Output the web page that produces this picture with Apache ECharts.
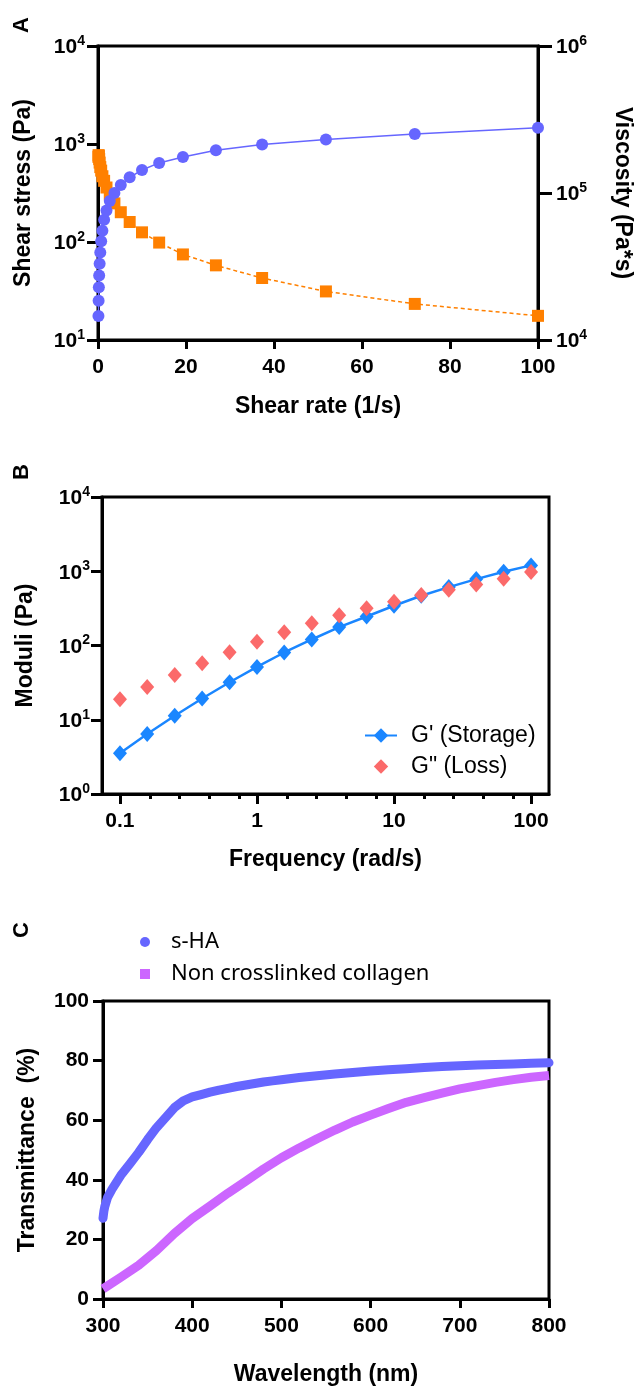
<!DOCTYPE html>
<html><head><meta charset="utf-8">
<script src="https://cdn.jsdelivr.net/npm/echarts@6/dist/echarts.min.js"></script>
<style>html,body{margin:0;padding:0;background:#fff}#c{width:640px;height:1388px}</style>
</head><body><div id="c"></div>
<script>
// ---- Panel A: flow curve ----
const shearRate = [0.1,0.139,0.193,0.268,0.373,0.518,0.72,1,1.39,1.93,2.68,3.73,5.18,7.2,10,13.9,19.3,26.8,37.3,51.8,72,100];
const shearStress = [17.6,25.2,34.5,45.5,60,78,102,130,169,210,262,316,382,457,543,641,738,863,986,1109,1268,1462];
const viscosity = [176000,181000,179000,170000,161000,150000,142000,130000,121000,109000,98000,85000,74000,63500,54000,46000,38200,32200,26400,21400,17600,14600];

// ---- Panel B: frequency sweep ----
const frequency = [0.1,0.158,0.251,0.398,0.631,1,1.58,2.51,3.98,6.31,10,15.8,25.1,39.8,63.1,100];
const storageModulus = [3.53,6.44,11.3,19.3,32.0,51.5,80.5,120.5,177,246,343,468,612,784,984,1199];
const lossModulus = [18.9,27.7,40.2,57.8,81.3,112,151,200,256,318,388,477,563,664,793,975];
const freqMajorTicks = [0.1,1,10,100];
const freqTickLabels = ['0.1','1','10','100'];
const freqMinorTicks = [0.165,0.272,0.448,0.739,1.65,2.72,4.48,7.39,16.5,27.2,44.8,73.9];

// ---- Panel C: transmittance ----
const wavelengthSHA = [300,301,302,305,310,320,330,340,350,360,370,380,390,400,410,420,430,440,450,460,470,480,490,500,520,540,560,580,600,620,640,660,680,700,720,740,760,780,800];
const transSHA = [27.1,29.5,31,34.0,36.8,41.5,45.3,49.2,53.5,57.5,60.8,64.2,66.5,67.8,68.6,69.4,70.1,70.7,71.3,71.8,72.3,72.8,73.2,73.6,74.3,74.9,75.5,76.0,76.5,76.9,77.3,77.7,78.0,78.3,78.5,78.7,78.9,79.1,79.3];
const wavelengthCol = [300,320,340,360,380,400,420,440,460,480,500,520,540,560,580,600,620,640,660,680,700,720,740,760,780,800];
const transCol = [3.4,7.3,11.3,16.3,22,27,31.2,35.5,39.5,43.6,47.4,50.7,53.8,56.7,59.4,61.7,63.9,66,67.6,69.1,70.5,71.6,72.7,73.6,74.4,75];

const FONT = '"Liberation Sans", Arial, sans-serif';
const zip = (a, b) => a.map((v, i) => [v, b[i]]);
const sup = v => '{b|10}{e|' + Math.round(Math.log10(v)) + '}';
const supRich = {
  b: {fontSize: 21, fontWeight: 'bold', fontFamily: FONT, color: '#000', lineHeight: 24, verticalAlign: 'bottom'},
  e: {fontSize: 14, fontWeight: 'bold', fontFamily: FONT, color: '#000', lineHeight: 14, verticalAlign: 'top'}
};
const axLine = {show: true, onZero: false, lineStyle: {color: '#000', width: 3}};
const tick = (len) => ({show: true, inside: false, length: len, lineStyle: {color: '#000', width: 3}});
const numLabel = (margin) => ({margin: margin, fontSize: 21, fontWeight: 'bold', fontFamily: FONT, color: '#000'});
const nameStyle = {fontSize: 23, fontWeight: 'bold', fontFamily: FONT, color: '#000'};
const gridBox = {show: true, borderColor: '#000', borderWidth: 3, backgroundColor: 'transparent', containLabel: false, outerBoundsMode: 'none'};

const option = {
  animation: false,
  backgroundColor: '#fff',
  grid: [
    Object.assign({left: 98, right: 102, top: 46, height: 294}, gridBox),
    Object.assign({left: 102, right: 91, top: 497, height: 297}, gridBox),
    Object.assign({left: 103, right: 91, top: 1001, height: 298}, gridBox)
  ],
  xAxis: [
    {gridIndex: 0, type: 'value', position: 'bottom', min: 0, max: 100, interval: 20,
      axisLine: axLine, axisTick: tick(9), axisLabel: numLabel(17), splitLine: {show: false},
      name: 'Shear rate (1/s)', nameLocation: 'middle', nameGap: 55, nameTextStyle: nameStyle},
    {gridIndex: 1, type: 'value', position: 'bottom', min: -1.131, max: 2.131,
      axisLine: axLine,
      axisTick: Object.assign(tick(10), {customValues: freqMajorTicks.map(Math.log10)}),
      axisLabel: Object.assign(numLabel(17), {customValues: freqMajorTicks.map(Math.log10),
        formatter: (v) => {
          let best = 0;
          freqMajorTicks.forEach((f, i) => { if (Math.abs(Math.log10(f) - v) < Math.abs(Math.log10(freqMajorTicks[best]) - v)) best = i; });
          return freqTickLabels[best];
        }}),
      splitLine: {show: false},
      name: 'Frequency (rad/s)', nameLocation: 'middle', nameGap: 54, nameTextStyle: nameStyle},
    {gridIndex: 1, type: 'value', position: 'bottom', min: -1.131, max: 2.131,
      axisLine: {show: false},
      axisTick: Object.assign(tick(5), {customValues: freqMinorTicks.map(Math.log10)}),
      axisLabel: {show: false}, splitLine: {show: false}},
    {gridIndex: 2, type: 'value', position: 'bottom', min: 300, max: 800, interval: 100,
      axisLine: axLine, axisTick: tick(9), axisLabel: numLabel(17), splitLine: {show: false},
      name: 'Wavelength (nm)', nameLocation: 'middle', nameGap: 64, nameTextStyle: nameStyle}
  ],
  yAxis: [
    {gridIndex: 0, type: 'log', logBase: 10, min: 10, max: 10000, position: 'left',
      axisLine: axLine, axisTick: tick(11),
      axisLabel: {margin: 13, formatter: sup, rich: supRich}, splitLine: {show: false}, minorTick: {show: false},
      name: 'Shear stress (Pa)', nameLocation: 'middle', nameGap: 63, nameRotate: 90, nameTextStyle: nameStyle},
    {gridIndex: 0, type: 'log', logBase: 10, min: 10000, max: 1000000, position: 'right',
      axisLine: axLine, axisTick: tick(14),
      axisLabel: {margin: 18, formatter: sup, rich: supRich}, splitLine: {show: false},
      name: 'Viscosity (Pa*s)', nameLocation: 'middle', nameGap: 73, nameRotate: -90, nameTextStyle: nameStyle},
    {gridIndex: 1, type: 'log', logBase: 10, min: 1, max: 10000, position: 'left',
      axisLine: axLine, axisTick: tick(11),
      axisLabel: {margin: 12, formatter: sup, rich: supRich}, splitLine: {show: false},
      name: 'Moduli (Pa)', nameLocation: 'middle', nameGap: 65, nameRotate: 90, nameTextStyle: nameStyle},
    {gridIndex: 2, type: 'value', min: 0, max: 100, interval: 20, position: 'left',
      axisLine: axLine, axisTick: tick(10), axisLabel: numLabel(14), splitLine: {show: false},
      name: 'Transmittance  (%)', nameLocation: 'middle', nameGap: 64, nameRotate: 90, nameTextStyle: nameStyle}
  ],
  legend: [
    {orient: 'vertical', left: 359, top: 719, itemWidth: 32, itemHeight: 18, itemGap: 8,
      data: ["G' (Storage)", 'G" (Loss)'],
      textStyle: {fontSize: 23, fontFamily: FONT, color: '#000', padding: [0, 0, 0, 9]}},
    {orient: 'vertical', left: 135, top: 926, itemWidth: 10, itemHeight: 10, itemGap: 10,
      data: [{name: 's-HA', icon: 'circle'}, {name: 'Non crosslinked collagen', icon: 'rect'}],
      textStyle: {fontSize: 22, fontFamily: '"Noto Sans", sans-serif', color: '#000', padding: [0, 0, 0, 16]}}
  ],
  series: [
    {name: 'Viscosity', type: 'line', xAxisIndex: 0, yAxisIndex: 1, data: zip(shearRate, viscosity),
      symbol: 'rect', symbolSize: 12, color: '#ff8000',
      lineStyle: {color: '#ff8000', width: 1.5, type: [4, 3]}, itemStyle: {color: '#ff8000'}},
    {name: 'Shear stress', type: 'line', xAxisIndex: 0, yAxisIndex: 0, data: zip(shearRate, shearStress),
      symbol: 'circle', symbolSize: 12, color: '#6666ff',
      lineStyle: {color: '#6666ff', width: 1.5}, itemStyle: {color: '#6666ff'}},
    {name: "G' (Storage)", type: 'line', xAxisIndex: 1, yAxisIndex: 2,
      data: zip(frequency.map(Math.log10), storageModulus),
      symbol: 'diamond', symbolSize: [14, 16], color: '#1a86ff',
      lineStyle: {color: '#1a86ff', width: 2.5}, itemStyle: {color: '#1a86ff'}},
    {name: 'G" (Loss)', type: 'line', xAxisIndex: 1, yAxisIndex: 2,
      data: zip(frequency.map(Math.log10), lossModulus),
      symbol: 'diamond', symbolSize: [14, 16], color: '#fb6a6a',
      lineStyle: {width: 0, opacity: 0}, itemStyle: {color: '#fb6a6a'}},
    {name: 's-HA', type: 'line', xAxisIndex: 3, yAxisIndex: 3, data: zip(wavelengthSHA, transSHA),
      showSymbol: false, color: '#6666ff',
      lineStyle: {color: '#6666ff', width: 9, cap: 'round', join: 'round'}, itemStyle: {color: '#6666ff'}},
    {name: 'Non crosslinked collagen', type: 'line', xAxisIndex: 3, yAxisIndex: 3, data: zip(wavelengthCol, transCol),
      showSymbol: false, color: '#cc66ff',
      lineStyle: {color: '#cc66ff', width: 9, cap: 'butt', join: 'round'}, itemStyle: {color: '#cc66ff'}}
  ],
  graphic: [
    {type: 'text', x: 22, y: 25, rotation: Math.PI / 2, style: {text: 'A', font: 'bold 22px "Liberation Sans"', fill: '#000', align: 'center', verticalAlign: 'middle'}},
    {type: 'text', x: 22, y: 472, rotation: Math.PI / 2, style: {text: 'B', font: 'bold 22px "Liberation Sans"', fill: '#000', align: 'center', verticalAlign: 'middle'}},
    {type: 'text', x: 22, y: 930, rotation: Math.PI / 2, style: {text: 'C', font: 'bold 22px "Liberation Sans"', fill: '#000', align: 'center', verticalAlign: 'middle'}}
  ]
};
const chart = echarts.init(document.getElementById('c'), null, {renderer: 'canvas'});
chart.setOption(option);
</script>
</body></html>
